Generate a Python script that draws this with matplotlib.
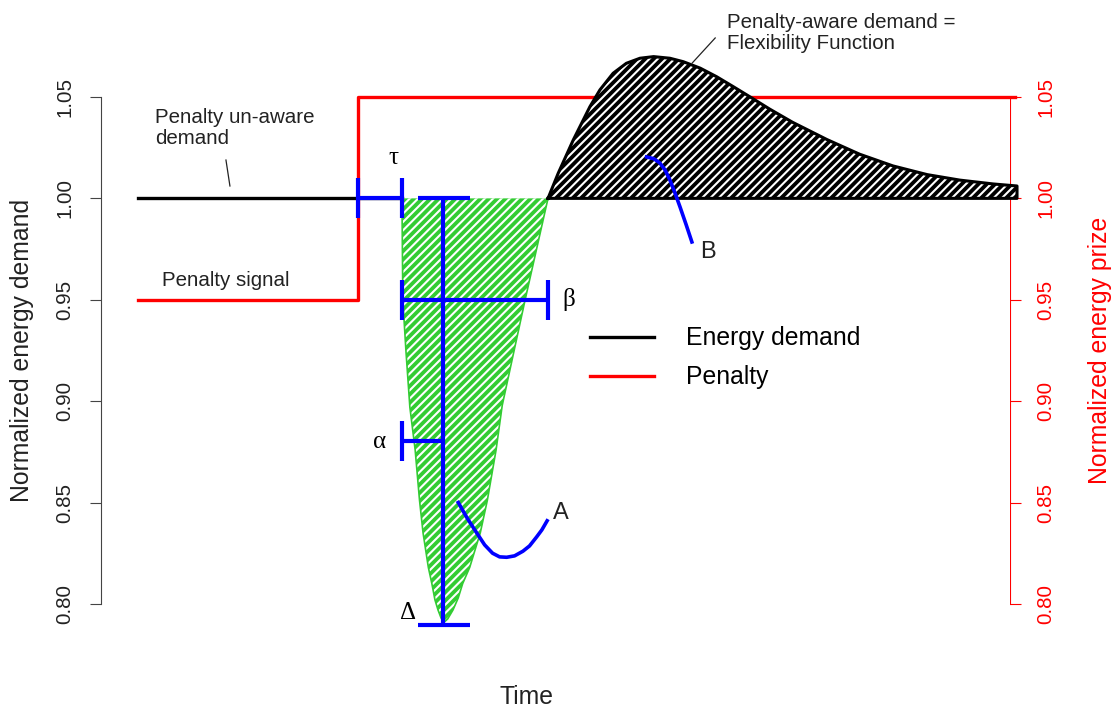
import matplotlib
matplotlib.use("Agg")
import matplotlib.pyplot as plt
from matplotlib.lines import Line2D

plt.rcParams['font.family'] = ['Liberation Sans', 'DejaVu Sans']
plt.rcParams['hatch.linewidth'] = 1.5

# demand before the dip (penalty un-aware part)
base_t = [0, 30]
base_v = [1.0, 1.0]

# penalty signal
pen_t = [0, 25, 25, 99.7]
pen_v = [0.95, 0.95, 1.05, 1.05]

# demand dip (area A)
dip_t = [30.0, 30.1, 30.45, 30.9, 31.5, 32.0, 32.4, 33.0, 33.4, 33.75, 34.1, 34.45, 34.8,
         35.2, 35.8, 36.4, 36.9, 37.7, 38.9, 39.7, 40.7, 41.4, 44.0, 46.6]
dip_v = [1.000, 0.950, 0.925, 0.897, 0.876, 0.851, 0.835, 0.818, 0.810, 0.802, 0.797, 0.793, 0.791,
         0.7926, 0.797, 0.803, 0.810, 0.818, 0.835, 0.851, 0.876, 0.898, 0.950, 1.000]

# demand rebound (area B)
reb_t = [46.6, 47.76, 49.47, 51.36, 52.5, 54.0, 55.5, 57.05, 58.6, 60.45, 61.97, 63.9, 65.76,
         67.65, 69.5, 71.8, 74.4, 78.3, 82.0, 85.8, 89.7, 93.4, 97.2, 99.9]
reb_v = [1.000, 1.0124, 1.0288, 1.0452, 1.0535, 1.0617, 1.0666, 1.0691, 1.0699, 1.0691, 1.0674,
         1.0642, 1.0600, 1.0551, 1.0502, 1.0440, 1.0375, 1.0290, 1.0218, 1.0160, 1.0117, 1.0090,
         1.0071, 1.0061]

# flexibility parameters (blue bars)
tau = (25.0, 30.0)       # delay
beta = (30.0, 46.6)      # duration of the dip
alpha = (30.0, 34.7)     # time to minimum
delta_t = 34.7
delta_lo = 0.7896        # minimum
alpha_v = 0.8804

# connector curves to the area labels
curveA_t = [36.4, 37.4, 38.5, 39.4, 40.3, 41.1, 41.9, 42.8, 43.75, 44.5, 45.3, 45.9, 46.5]
curveA_v = [0.850, 0.8424, 0.835, 0.8291, 0.825, 0.8232, 0.823, 0.8237, 0.826, 0.8286, 0.833,
            0.8365, 0.841]
curveB_t = [57.8, 58.6, 59.3, 59.9, 60.45, 61.0, 61.6, 62.3, 62.95]
curveB_v = [1.0204, 1.0196, 1.0175, 1.0140, 1.0091, 1.0030, 0.9958, 0.9870, 0.9785]

yticks = [0.80, 0.85, 0.90, 0.95, 1.00, 1.05]

GREEN = '#33CC33'
BLUE = '#0000FF'
RED = '#FF0000'

fig = plt.figure(figsize=(11.15, 7.09), dpi=100)
ax = fig.add_axes([0.0906, 0.0973, 0.8152, 0.8463])
ax.set_xlim(-4.2, 99.1)
ax.set_ylim(0.7822, 1.0781)

# lines and areas
ax.plot(pen_t, pen_v, color=RED, lw=2.4, zorder=2, clip_on=False)
ax.plot(base_t, base_v, color='black', lw=2.4, zorder=3)

ax.fill(dip_t, dip_v, facecolor=GREEN, edgecolor='white', hatch='////', lw=0, zorder=3)
ax.plot(dip_t, dip_v, color=GREEN, lw=1.2, zorder=3)

reb_poly_t = reb_t + [reb_t[-1]]
reb_poly_v = reb_v + [1.0]
ax.fill(reb_poly_t, reb_poly_v, facecolor='black', edgecolor='white', hatch='////', lw=0,
        zorder=3, clip_on=False)
ax.plot(reb_poly_t + [reb_t[0]], reb_poly_v + [1.0], color='black', lw=2.2, zorder=4,
        clip_on=False, solid_joinstyle='round')

# blue parameter bars
bkw = dict(color=BLUE, lw=3, zorder=5, solid_capstyle='butt', clip_on=False)
h = 0.0099
ax.plot(tau, [1.0, 1.0], **bkw)
ax.plot([tau[0], tau[0]], [1 - h, 1 + h], **bkw)
ax.plot([tau[1], tau[1]], [1 - h, 1 + h], **bkw)
ax.plot([delta_t, delta_t], [1.0, delta_lo], **bkw)
ax.plot([31.8, 37.7], [1.0, 1.0], **bkw)
ax.plot([31.8, 37.7], [delta_lo, delta_lo], **bkw)
ax.plot(beta, [0.95, 0.95], **bkw)
ax.plot([beta[0], beta[0]], [0.95 - h, 0.95 + h], **bkw)
ax.plot([beta[1], beta[1]], [0.95 - h, 0.95 + h], **bkw)
ax.plot(alpha, [alpha_v, alpha_v], **bkw)
ax.plot([alpha[0], alpha[0]], [alpha_v - h, alpha_v + h], **bkw)
ax.plot(curveA_t, curveA_v, color=BLUE, lw=2.6, zorder=5)
ax.plot(curveB_t, curveB_v, color=BLUE, lw=2.6, zorder=5)

# greek letters
gk = dict(family=['Liberation Serif', 'DejaVu Serif'], fontsize=18, ha='center', va='center', zorder=6)
ax.text(29.0, 1.020, 'τ', **gk)
ax.text(48.9, 0.950, 'β', **gk)
ax.text(27.5, 0.880, 'α', **gk)
ax.text(30.7, 0.7955, 'Δ', **gk)
ax.text(48.1, 0.8449, 'A', fontsize=17, ha='center', va='center', color='#222222')
ax.text(64.8, 0.9736, 'B', fontsize=17, ha='center', va='center', color='#222222')

# annotations
ax.text(1.9, 1.0446, 'Penalty un-aware\ndemand', fontsize=14.8, ha='left', va='top',
        linespacing=1.12, color='#222222')
ax.plot([10.0, 10.45], [1.0189, 1.0061], color='#222222', lw=0.9)
ax.text(2.7, 0.9593, 'Penalty signal', fontsize=14.8, ha='left', va='center', color='#222222')
ax.text(66.9, 1.0914, 'Penalty-aware demand =\nFlexibility Function', fontsize=14.8,
        ha='left', va='top', linespacing=1.12, color='#222222', clip_on=False)
ax.plot([65.6, 63.0], [1.0791, 1.0668], color='#222222', lw=0.9, clip_on=False)

# legend
handles = [Line2D([], [], color='black', lw=2.4), Line2D([], [], color=RED, lw=2.4)]
ax.legend(handles, ['Energy demand', 'Penalty'], loc='upper left', frameon=False,
          fontsize=17.8, handlelength=2.6, handletextpad=1.3, labelspacing=0.6,
          borderpad=0, borderaxespad=0, bbox_to_anchor=(0.529, 0.5395),
          bbox_transform=fig.transFigure)

# axes styling
for s in ['top', 'bottom', 'right']:
    ax.spines[s].set_visible(False)
ax.spines['left'].set_bounds(0.80, 1.05)
ax.spines['left'].set_color('#444444')
ax.spines['left'].set_linewidth(0.8)
ax.set_xticks([])
ax.set_yticks(yticks)
ax.set_yticklabels(['%.2f' % v for v in yticks])
ax.tick_params(axis='y', length=8, width=0.8, color='#444444', labelsize=14.8, pad=11,
               labelcolor='#222222')
for lab in ax.get_yticklabels():
    lab.set_rotation(90)
    lab.set_va('center')

ax2 = ax.twinx()
ax2.set_ylim(ax.get_ylim())
for s in ['top', 'bottom', 'left']:
    ax2.spines[s].set_visible(False)
ax2.spines['right'].set_bounds(0.80, 1.05)
ax2.spines['right'].set_color(RED)
ax2.spines['right'].set_linewidth(0.8)
ax2.set_yticks(yticks)
ax2.set_yticklabels(['%.2f' % v for v in yticks])
ax2.tick_params(axis='y', length=8, width=0.8, color=RED, labelsize=14.8, pad=11,
                labelcolor=RED)
for lab in ax2.get_yticklabels():
    lab.set_rotation(90)
    lab.set_va('center')
ax2.set_zorder(-1)

fig.text(0.0197, 0.506, 'Normalized energy demand', rotation=90, fontsize=17.8,
         ha='center', va='center', color='#222222')
fig.text(0.9865, 0.506, 'Normalized energy prize', rotation=90, fontsize=17.8,
         ha='center', va='center', color=RED)
fig.text(0.4726, 0.017, 'Time', fontsize=17.8, ha='center', va='center', color='#222222')

fig.savefig('out.png', dpi=100)
